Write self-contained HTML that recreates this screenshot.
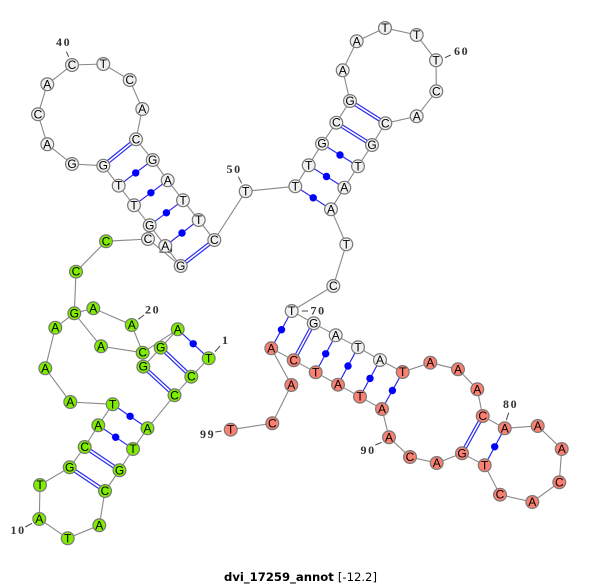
<!DOCTYPE html>
<html><head><meta charset="utf-8"><style>
html,body{margin:0;padding:0;background:#fff;width:600px;height:585px;overflow:hidden}
svg{display:block}
.b{fill:none;stroke:#888;stroke-width:1.1}
.p{fill:none;stroke:#2a2af0;stroke-width:1.2}
.t{fill:none;stroke:#444;stroke-width:1}
.d circle{fill:#0000ff;stroke:none}
.n circle{stroke:#777;stroke-width:1.2}
.n text{font:12px "Liberation Sans",sans-serif;text-anchor:middle;fill:#000}
.w circle{fill:#f0f0f0}
.g circle{fill:#7fec00}
.r circle{fill:#fa8072}
.l{font:bold 12px "Liberation Serif",serif;fill:#333;letter-spacing:1.6px}
.title{font:bold 11.5px "DejaVu Sans",sans-serif;fill:#000}
</style></head><body>
<svg width="600" height="585" viewBox="0 0 600 585" xmlns="http://www.w3.org/2000/svg">
<text class="l" x="159" y="253">30</text>
<path class="t" d="M66.3 51.7L68.7 56.7M238.3 176.7L241.7 183.3M445 57.7L450.7 55M301.7 311H308M508.7 412.7L506.3 420M375.3 445L381.7 442.3M215.3 432L221.7 431M215 351.7L220 346M25.3 527L32 523.3M138.3 319.3L144 315M160 251H166"/>
<path class="b" d="M208.7 358.3L191.3 376.7L174.5 395.3L147.5 428.3L133 449L119.5 470.3L105 491L99.3 525.3L67.7 538.3L39.3 519L40 485L69.7 467.3L84.7 447L98.3 425.3L112.7 404.3L70.3 402L45.3 368.3L55.3 327.7L74.3 313.3L101 346.3L142.7 352.7L131.7 325L93.3 308.3L74.3 313.3"/>
<path class="b" d="M142.7 352.7L177.7 329.3M143.3 366.7L160.7 347.7L177.7 329.3"/>
<path class="b" d="M74.3 313.3L76 271.7L106 241.3L148 239L180.7 266M165.3 246L180.7 266"/>
<path class="b" d="M214.3 240L198.7 220L183 200.3L167.7 180.3L152.7 160L136 139.3L142.3 109L129.7 80L103.3 64L72 65L47.3 84.3L38 114.3L47.3 144.3L72 164L103.3 165.7L118.7 185.7L134 205.3L149.7 225.3L165.3 246"/>
<path class="b" d="M214.3 240L245.7 191.3L295.3 186.3L308.7 165.3L322 143.7L336.3 122.7L350 101L342.7 70.3L356.7 41.3L385 28L416.7 35L436 60.3L436.3 91.3L416.7 116.3L385.3 123.3L372 145L358 166.3L344.3 187.7L331 209.3L346.3 244.3L333.3 286L291.7 311L313.7 323.3L335.7 335.3L358 347.3L380 360L402.7 372L430.3 362.7L458 369.3L477.3 389.3L482.7 416L504.7 428.3L537.7 426L561.7 449L559.3 482.3L532.3 502L500 494.7L484.7 465.3L462 453.3L436.7 463L410 457L389 437.3L382 409L360 396.7L338 384.7L315.7 372.3L293.7 360.3L271.3 348.3L291.3 385L272.3 423.3L230.7 429.7"/>
<path class="p" d="M118.7 185.7L152.7 160M134 205.3L167.7 180.3M149.7 225.3L183 200.3M165.3 246L198.7 220M322 143.7L358 166.3M308.7 165.3L344.3 187.7M295.3 186.3L331 209.3M177.7 329.3L208.7 358.3M112.7 404.3L147.5 428.3M98.3 425.3L133 449M291.7 311L271.3 348.3M335.7 335.3L315.7 372.3M358 347.3L338 384.7M380 360L360 396.7M402.7 372L382 409M504.7 428.3L484.7 465.3"/>
<path class="p" d="M104.2 166.8L136.9 140.4M102.4 164.6L135.1 138.2M181.6 267.1L215.2 241.1M179.8 264.9L213.4 238.9M349.3 102.2L384.6 124.5M350.7 99.8L386 122.1M335.6 123.9L371.3 146.2M337 121.5L372.7 143.8M159.7 348.7L190.3 377.7M161.7 346.7L192.3 375.7M142.3 367.7L173.5 396.3M144.3 365.7L175.5 394.3M83.9 448.2L118.7 471.5M85.5 445.8L120.3 469.1M68.9 468.5L104.2 492.2M70.5 466.1L105.8 489.8M314.9 324L294.9 361M312.5 322.6L292.5 359.6M483.9 416.7L463.2 454M481.5 415.3L460.8 452.6"/>
<g class="d">
<circle cx="135.7" cy="172.9" r="3.7"/><circle cx="150.9" cy="192.8" r="3.7"/><circle cx="166.4" cy="212.8" r="3.7"/><circle cx="182" cy="233" r="3.7"/>
<circle cx="340" cy="155" r="3.7"/><circle cx="326.5" cy="176.5" r="3.7"/><circle cx="313.2" cy="197.8" r="3.7"/>
<circle cx="193.2" cy="343.8" r="3.7"/><circle cx="130.1" cy="416.3" r="3.7"/><circle cx="115.7" cy="437.2" r="3.7"/>
<circle cx="281.5" cy="329.7" r="3.7"/><circle cx="325.7" cy="353.8" r="3.7"/><circle cx="348" cy="366" r="3.7"/><circle cx="370" cy="378.4" r="3.7"/><circle cx="392.4" cy="390.5" r="3.7"/><circle cx="494.7" cy="446.8" r="3.7"/>
</g>
<g class="n g">
<circle cx="208.7" cy="358.3" r="6.4"/><text x="208.7" y="362.3">T</text>
<circle cx="191.3" cy="376.7" r="6.4"/><text x="191.3" y="380.7">C</text>
<circle cx="174.5" cy="395.3" r="6.4"/><text x="174.5" y="399.3">C</text>
<circle cx="147.5" cy="428.3" r="6.4"/><text x="147.5" y="432.3">A</text>
<circle cx="133" cy="449" r="6.4"/><text x="133" y="453">T</text>
<circle cx="119.5" cy="470.3" r="6.4"/><text x="119.5" y="474.3">G</text>
<circle cx="105" cy="491" r="6.4"/><text x="105" y="495">C</text>
<circle cx="99.3" cy="525.3" r="6.4"/><text x="99.3" y="529.3">A</text>
<circle cx="67.7" cy="538.3" r="6.4"/><text x="67.7" y="542.3">T</text>
<circle cx="39.3" cy="519" r="6.4"/><text x="39.3" y="523">A</text>
<circle cx="40" cy="485" r="6.4"/><text x="40" y="489">T</text>
<circle cx="69.7" cy="467.3" r="6.4"/><text x="69.7" y="471.3">G</text>
<circle cx="84.7" cy="447" r="6.4"/><text x="84.7" y="451">C</text>
<circle cx="98.3" cy="425.3" r="6.4"/><text x="98.3" y="429.3">A</text>
<circle cx="112.7" cy="404.3" r="6.4"/><text x="112.7" y="408.3">T</text>
<circle cx="70.3" cy="402" r="6.4"/><text x="70.3" y="406">A</text>
<circle cx="45.3" cy="368.3" r="6.4"/><text x="45.3" y="372.3">A</text>
<circle cx="55.3" cy="327.7" r="6.4"/><text x="55.3" y="331.7">A</text>
<circle cx="74.3" cy="313.3" r="6.4"/><text x="74.3" y="317.3">G</text>
<circle cx="93.3" cy="308.3" r="6.4"/><text x="93.3" y="312.3">A</text>
<circle cx="131.7" cy="325" r="6.4"/><text x="131.7" y="329">A</text>
<circle cx="101" cy="346.3" r="6.4"/><text x="101" y="350.3">A</text>
<circle cx="142.7" cy="352.7" r="6.4"/><text x="142.7" y="356.7">C</text>
<circle cx="143.3" cy="366.7" r="6.4"/><text x="143.3" y="370.7">G</text>
<circle cx="160.7" cy="347.7" r="6.4"/><text x="160.7" y="351.7">G</text>
<circle cx="177.7" cy="329.3" r="6.4"/><text x="177.7" y="333.3">A</text>
<circle cx="76" cy="271.7" r="6.4"/><text x="76" y="275.7">C</text>
<circle cx="106" cy="241.3" r="6.4"/><text x="106" y="245.3">C</text>
</g>
<g class="n w">
<circle cx="148" cy="239" r="6.4"/><text x="148" y="243">C</text>
<circle cx="180.7" cy="266" r="6.4"/><text x="180.7" y="270">G</text>
<circle cx="149.7" cy="225.3" r="6.4"/><text x="149.7" y="229.3">G</text>
<circle cx="165.3" cy="246" r="6.4"/><text x="165.3" y="250">A</text>
<circle cx="134" cy="205.3" r="6.4"/><text x="134" y="209.3">T</text>
<circle cx="118.7" cy="185.7" r="6.4"/><text x="118.7" y="189.7">T</text>
<circle cx="103.3" cy="165.7" r="6.4"/><text x="103.3" y="169.7">G</text>
<circle cx="72" cy="164" r="6.4"/><text x="72" y="168">G</text>
<circle cx="47.3" cy="144.3" r="6.4"/><text x="47.3" y="148.3">A</text>
<circle cx="38" cy="114.3" r="6.4"/><text x="38" y="118.3">C</text>
<circle cx="47.3" cy="84.3" r="6.4"/><text x="47.3" y="88.3">A</text>
<circle cx="72" cy="65" r="6.4"/><text x="72" y="69">C</text>
<circle cx="103.3" cy="64" r="6.4"/><text x="103.3" y="68">T</text>
<circle cx="129.7" cy="80" r="6.4"/><text x="129.7" y="84">C</text>
<circle cx="142.3" cy="109" r="6.4"/><text x="142.3" y="113">A</text>
<circle cx="136" cy="139.3" r="6.4"/><text x="136" y="143.3">C</text>
<circle cx="152.7" cy="160" r="6.4"/><text x="152.7" y="164">G</text>
<circle cx="167.7" cy="180.3" r="6.4"/><text x="167.7" y="184.3">A</text>
<circle cx="183" cy="200.3" r="6.4"/><text x="183" y="204.3">T</text>
<circle cx="198.7" cy="220" r="6.4"/><text x="198.7" y="224">T</text>
<circle cx="214.3" cy="240" r="6.4"/><text x="214.3" y="244">C</text>
<circle cx="245.7" cy="191.3" r="6.4"/><text x="245.7" y="195.3">T</text>
<circle cx="295.3" cy="186.3" r="6.4"/><text x="295.3" y="190.3">T</text>
<circle cx="308.7" cy="165.3" r="6.4"/><text x="308.7" y="169.3">T</text>
<circle cx="322" cy="143.7" r="6.4"/><text x="322" y="147.7">G</text>
<circle cx="336.3" cy="122.7" r="6.4"/><text x="336.3" y="126.7">C</text>
<circle cx="350" cy="101" r="6.4"/><text x="350" y="105">G</text>
<circle cx="342.7" cy="70.3" r="6.4"/><text x="342.7" y="74.3">A</text>
<circle cx="356.7" cy="41.3" r="6.4"/><text x="356.7" y="45.3">A</text>
<circle cx="385" cy="28" r="6.4"/><text x="385" y="32">T</text>
<circle cx="416.7" cy="35" r="6.4"/><text x="416.7" y="39">T</text>
<circle cx="436" cy="60.3" r="6.4"/><text x="436" y="64.3">T</text>
<circle cx="436.3" cy="91.3" r="6.4"/><text x="436.3" y="95.3">C</text>
<circle cx="416.7" cy="116.3" r="6.4"/><text x="416.7" y="120.3">A</text>
<circle cx="385.3" cy="123.3" r="6.4"/><text x="385.3" y="127.3">C</text>
<circle cx="372" cy="145" r="6.4"/><text x="372" y="149">G</text>
<circle cx="358" cy="166.3" r="6.4"/><text x="358" y="170.3">T</text>
<circle cx="344.3" cy="187.7" r="6.4"/><text x="344.3" y="191.7">A</text>
<circle cx="331" cy="209.3" r="6.4"/><text x="331" y="213.3">A</text>
<circle cx="346.3" cy="244.3" r="6.4"/><text x="346.3" y="248.3">T</text>
<circle cx="333.3" cy="286" r="6.4"/><text x="333.3" y="290">C</text>
<circle cx="291.7" cy="311" r="6.4"/><text x="291.7" y="315">T</text>
<circle cx="313.7" cy="323.3" r="6.4"/><text x="313.7" y="327.3">G</text>
<circle cx="335.7" cy="335.3" r="6.4"/><text x="335.7" y="339.3">A</text>
<circle cx="358" cy="347.3" r="6.4"/><text x="358" y="351.3">T</text>
<circle cx="380" cy="360" r="6.4"/><text x="380" y="364">A</text>
</g>
<g class="n r">
<circle cx="402.7" cy="372" r="6.4"/><text x="402.7" y="376">T</text>
<circle cx="430.3" cy="362.7" r="6.4"/><text x="430.3" y="366.7">A</text>
<circle cx="458" cy="369.3" r="6.4"/><text x="458" y="373.3">A</text>
<circle cx="477.3" cy="389.3" r="6.4"/><text x="477.3" y="393.3">A</text>
<circle cx="482.7" cy="416" r="6.4"/><text x="482.7" y="420">C</text>
<circle cx="504.7" cy="428.3" r="6.4"/><text x="504.7" y="432.3">A</text>
<circle cx="537.7" cy="426" r="6.4"/><text x="537.7" y="430">A</text>
<circle cx="561.7" cy="449" r="6.4"/><text x="561.7" y="453">A</text>
<circle cx="559.3" cy="482.3" r="6.4"/><text x="559.3" y="486.3">C</text>
<circle cx="532.3" cy="502" r="6.4"/><text x="532.3" y="506">A</text>
<circle cx="500" cy="494.7" r="6.4"/><text x="500" y="498.7">C</text>
<circle cx="484.7" cy="465.3" r="6.4"/><text x="484.7" y="469.3">T</text>
<circle cx="462" cy="453.3" r="6.4"/><text x="462" y="457.3">G</text>
<circle cx="436.7" cy="463" r="6.4"/><text x="436.7" y="467">A</text>
<circle cx="410" cy="457" r="6.4"/><text x="410" y="461">C</text>
<circle cx="389" cy="437.3" r="6.4"/><text x="389" y="441.3">A</text>
<circle cx="382" cy="409" r="6.4"/><text x="382" y="413">A</text>
<circle cx="360" cy="396.7" r="6.4"/><text x="360" y="400.7">T</text>
<circle cx="338" cy="384.7" r="6.4"/><text x="338" y="388.7">A</text>
<circle cx="315.7" cy="372.3" r="6.4"/><text x="315.7" y="376.3">T</text>
<circle cx="293.7" cy="360.3" r="6.4"/><text x="293.7" y="364.3">C</text>
<circle cx="271.3" cy="348.3" r="6.4"/><text x="271.3" y="352.3">A</text>
<circle cx="291.3" cy="385" r="6.4"/><text x="291.3" y="389">A</text>
<circle cx="272.3" cy="423.3" r="6.4"/><text x="272.3" y="427.3">C</text>
<circle cx="230.7" cy="429.7" r="6.4"/><text x="230.7" y="433.7">T</text>
</g>
<text class="l" x="56" y="46">40</text>
<text class="l" x="226.5" y="173">50</text>
<text class="l" x="454" y="55">60</text>
<text class="l" x="310.5" y="314.5">70</text>
<text class="l" x="503" y="408">80</text>
<text class="l" x="360.5" y="454">90</text>
<text class="l" x="200" y="438">99</text>
<text class="l" x="222" y="344">1</text>
<text class="l" x="10.5" y="534">10</text>
<text class="l" x="145" y="313.5">20</text>
<text class="title" x="224" y="581" textLength="153" lengthAdjust="spacingAndGlyphs">dvi_17259_annot <tspan font-weight="normal">[-12.2]</tspan></text>
</svg>
</body></html>
